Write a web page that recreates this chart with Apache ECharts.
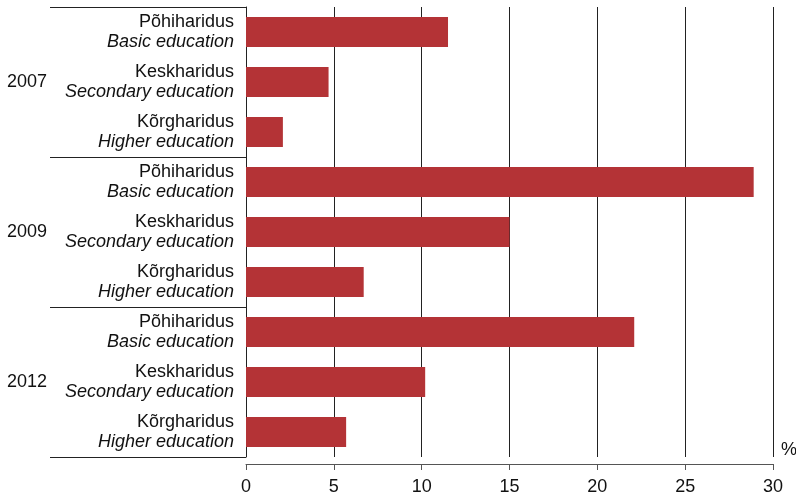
<!DOCTYPE html>
<html><head><meta charset="utf-8">
<script src="https://cdn.jsdelivr.net/npm/echarts@6/dist/echarts.min.js"></script>
<style>html,body{margin:0;padding:0;background:#fff}#c{width:796px;height:497px}</style>
</head><body><div id="c"></div>
<script>
const years = ['2007', '2009', '2012'];
const levelsEt = ['Põhiharidus', 'Keskharidus', 'Kõrgharidus'];
const levelsEn = ['Basic education', 'Secondary education', 'Higher education'];
const values2007 = [11.5, 4.7, 2.1];
const values2009 = [28.9, 15.0, 6.7];
const values2012 = [22.1, 10.2, 5.7];
const xTicks = [0, 5, 10, 15, 20, 25, 30];

const cats = [];
const vals = [];
const allVals = [values2007, values2009, values2012];
years.forEach((y, yi) => {
  levelsEt.forEach((l, li) => {
    cats.push(l + '\n' + levelsEn[li]);
    vals.push(allVals[yi][li]);
  });
});

const chart = echarts.init(document.getElementById('c'));
const font = '"Liberation Sans", Arial, sans-serif';
chart.setOption({
  animation: false,
  grid: { left: 246, right: 23, top: 7, bottom: 40, containLabel: false },
  xAxis: {
    type: 'value', min: xTicks[0], max: xTicks[xTicks.length - 1], interval: 5,
    offset: 7,
    axisLine: { show: true, lineStyle: { color: '#555', width: 1 } },
    axisTick: { show: true, length: 6, lineStyle: { color: '#555' } },
    axisLabel: { color: '#111', fontSize: 18, fontFamily: font, margin: 14 },
    splitLine: { show: true, lineStyle: { color: '#222', width: 1 } }
  },
  yAxis: [
    {
      type: 'category', data: cats, inverse: true,
      axisLine: { show: true, onZero: false, lineStyle: { color: '#222', width: 1 } },
      axisTick: { show: false },
      axisLabel: {
        margin: 12, align: 'right',
        formatter: v => { const p = v.split('\n'); return '{a|' + p[0] + '}\n{b|' + p[1] + '}'; },
        rich: {
          a: { fontSize: 18, fontFamily: font, color: '#111', lineHeight: 20, align: 'right' },
          b: { fontSize: 18, fontFamily: font, color: '#111', fontStyle: 'italic', lineHeight: 20, align: 'right' }
        }
      }
    },
    {
      type: 'category', data: years, inverse: true, position: 'left',
      axisLine: { show: false },
      axisTick: { show: true, length: 196, lineStyle: { color: '#222', width: 1 } },
      axisLabel: { margin: 199, color: '#111', fontSize: 18, fontFamily: font, align: 'right' }
    }
  ],
  series: [{
    type: 'bar', yAxisIndex: 0, data: vals, barWidth: '60%',
    itemStyle: { color: '#b43336' }
  }],
  graphic: [{
    type: 'text', left: 781, top: 441,
    style: { text: '%', fontSize: 18, fontFamily: font, fill: '#111' }
  }]
});
</script></body></html>
